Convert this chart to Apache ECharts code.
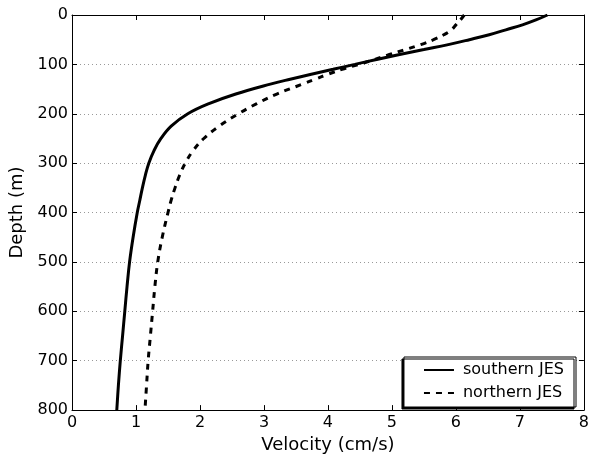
<!DOCTYPE html>
<html>
<head>
    <meta charset="utf-8">
    <title>Velocity profile</title>
    <script src="https://cdn.jsdelivr.net/npm/echarts@6/dist/echarts.min.js"></script>
    <style>
        html, body { margin: 0; padding: 0; background: #fff; }
        #chart { width: 592px; height: 459px; }
    </style>
</head>
<body>
    <div id="chart"></div>
    <script>
        // depth samples (m)
        const depths = [0, 10, 20, 30, 40, 50, 60, 70, 80, 90, 100, 110, 120, 130, 140, 160, 180, 200,
            225, 250, 275, 300, 325, 350, 375, 400, 450, 500, 550, 600, 650, 700, 750, 800];
        // velocity (cm/s) read at each depth
        const southern = [7.43, 7.25, 7.04, 6.78, 6.52, 6.21, 5.88, 5.50, 5.12, 4.76, 4.42, 4.08, 3.74, 3.41,
            3.10, 2.56, 2.13, 1.81, 1.55, 1.39, 1.28, 1.20, 1.145, 1.10, 1.06, 1.02, 0.955, 0.90, 0.86, 0.825,
            0.79, 0.755, 0.725, 0.70];
        const northern = [6.13, 6.07, 6.00, 5.93, 5.81, 5.65, 5.45, 5.21, 4.96, 4.73, 4.48, 4.22, 4.00, 3.80,
            3.60, 3.20, 2.88, 2.60, 2.30, 2.06, 1.89, 1.77, 1.68, 1.61, 1.55, 1.50, 1.41, 1.34, 1.295, 1.26,
            1.225, 1.19, 1.165, 1.14];
        const seriesNames = ['southern JES', 'northern JES'];

        const chart = echarts.init(document.getElementById('chart'));
        const font = 'DejaVu Sans';
        const tick = { show: true, inside: true, length: 5, lineStyle: { color: '#000', width: 1 } };
        const line = { show: true, onZero: false, lineStyle: { color: '#000', width: 1 } };

        chart.setOption({
            animation: false,
            textStyle: { fontFamily: font },
            grid: { left: 71, right: 7, top: 15, bottom: 45 },
            legend: {
                orient: 'vertical',
                right: 16,
                bottom: 52,
                data: seriesNames,
                itemWidth: 30,
                itemHeight: 14,
                itemGap: 7,
                padding: [5, 12, 6, 19],
                backgroundColor: '#fff',
                borderColor: '#000',
                borderWidth: 1,
                borderRadius: 0,
                shadowColor: '#000',
                shadowBlur: 0,
                shadowOffsetX: -2,
                shadowOffsetY: 2,
                itemStyle: { opacity: 0 },
                textStyle: { fontFamily: font, fontSize: 16, color: '#000', padding: [0, 0, 0, 4] }
            },
            xAxis: [{
                type: 'value', position: 'bottom', min: 0, max: 8, interval: 1,
                name: 'Velocity (cm/s)', nameLocation: 'middle', nameGap: 22,
                nameTextStyle: { fontFamily: font, fontSize: 18, color: '#000' },
                axisLine: line, axisTick: tick,
                axisLabel: { fontFamily: font, fontSize: 16, color: '#000', margin: 5 },
                splitLine: { show: false }
            }, {
                type: 'value', position: 'top', min: 0, max: 8, interval: 1,
                axisLine: line, axisTick: tick,
                axisLabel: { show: false }, splitLine: { show: false }
            }],
            yAxis: [{
                type: 'value', inverse: true, min: 0, max: 800, interval: 100,
                name: 'Depth (m)', nameLocation: 'middle', nameGap: 46,
                nameTextStyle: { fontFamily: font, fontSize: 18, color: '#000' },
                axisLine: line, axisTick: tick,
                axisLabel: { fontFamily: font, fontSize: 16, color: '#000', margin: 4 },
                splitLine: { show: true, lineStyle: { color: '#999', width: 1, type: [1, 3] } }
            }, {
                type: 'value', position: 'right', inverse: true, min: 0, max: 800, interval: 100,
                axisLine: line, axisTick: tick,
                axisLabel: { show: false }, splitLine: { show: false }
            }],
            series: [{
                name: seriesNames[0],
                type: 'line',
                smooth: 0.4,
                symbol: 'none',
                xAxisIndex: 0, yAxisIndex: 0,
                lineStyle: { color: '#000', width: 3, type: 'solid' },
                itemStyle: { color: '#000' },
                data: depths.map((d, i) => [southern[i], d])
            }, {
                name: seriesNames[1],
                type: 'line',
                smooth: 0.4,
                symbol: 'none',
                xAxisIndex: 0, yAxisIndex: 0,
                lineStyle: { color: '#000', width: 3, type: [6, 6] },
                itemStyle: { color: '#000' },
                data: depths.map((d, i) => [northern[i], d])
            }]
        });
    </script>
</body>
</html>
